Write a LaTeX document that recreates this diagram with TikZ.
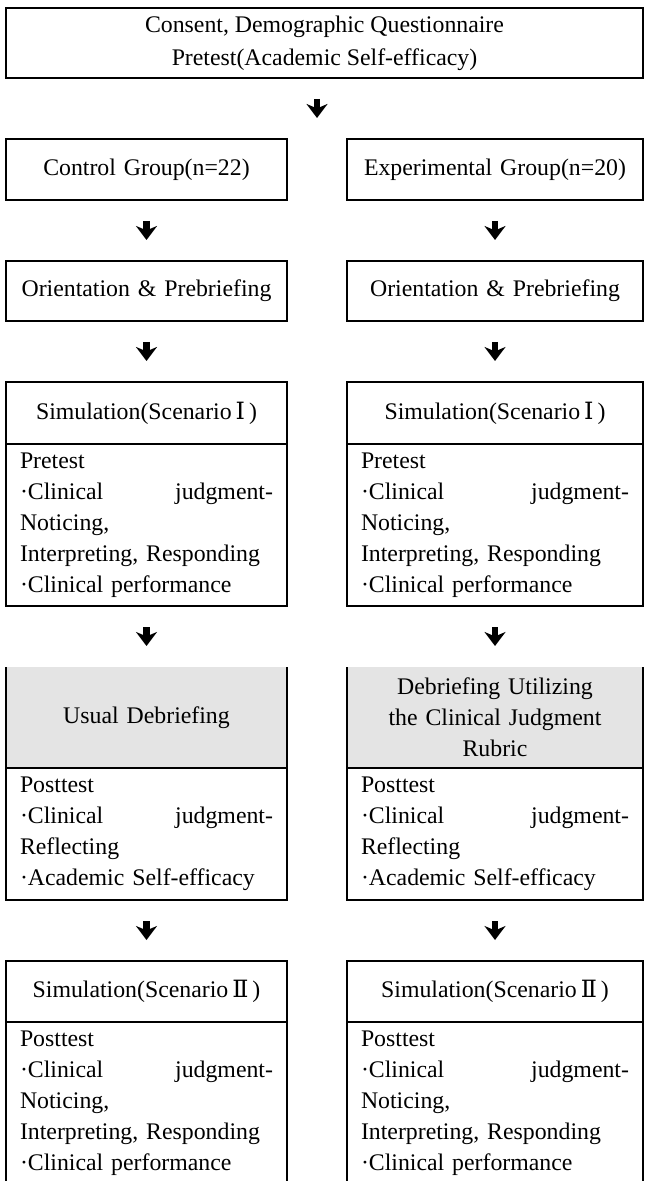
\documentclass[tikz,border=0pt]{standalone}
\usepackage{fontspec}
\setmainfont{Liberation Serif}
\newfontfamily\romanfont{DejaVu Serif}
\usepackage{tikz}
\usetikzlibrary{arrows.meta,positioning,calc}
\definecolor{debrief}{RGB}{228,228,228}

\begin{document}
\begin{tikzpicture}[
  x=1pt,y=1pt,
  node distance=30.5pt,
  every node/.style={font=\fontsize{11.9}{15.5}\selectfont,inner sep=0pt,outer sep=0pt},
  box/.style={draw,line width=0.7pt,align=center,inner xsep=7pt,inner ysep=3pt},
  lcol/.style={minimum width=140.5pt,text width=126.5pt},
  rcol/.style={minimum width=148pt,text width=134pt},
  head/.style={box,minimum height=31pt},
  body/.style={box,align=left,minimum height=81pt},
  shade/.style={fill=debrief,align=center,inner xsep=7pt,minimum height=50.5pt},
  ar/.style={-{Stealth[length=7pt,width=10.5pt,inset=2.2pt]},line width=3.2pt,shorten <=10.5pt,shorten >=10.5pt}
]
\useasboundingbox (0,0) rectangle (322,-590.5);

\node[box,minimum width=318.5pt,minimum height=35pt,font=\fontsize{11.9}{16.5}\selectfont] (intake) at (162.25,-21.5) {Consent, Demographic Questionnaire\\Pretest(Academic Self-efficacy)};

% control arm
\node[head,lcol,minimum height=30.5pt] (ctrl) at (73.25,-84.75) {Control Group(n=22)};
\node[head,lcol,minimum height=30pt,below=of ctrl] (oriC) {Orientation \& Prebriefing};
\node[head,lcol,below=of oriC] (simC) {Simulation(Scenario\,{\romanfont Ⅰ}\,)};
\node[body,lcol,below=0pt of simC] (preC) {Pretest\\·Clinical\hfill judgment-\\Noticing,\\Interpreting, Responding\\·Clinical performance};
\node[shade,lcol,below=of preC] (dbC) {Usual Debriefing};
\node[body,lcol,minimum height=66pt,below=0pt of dbC] (postC) {Posttest\\·Clinical\hfill judgment-\\Reflecting\\·Academic Self-efficacy};
\node[head,lcol,minimum height=30.5pt,below=of postC] (simIIC) {Simulation(Scenario\,{\romanfont Ⅱ}\,)};
\node[body,lcol,below=0pt of simIIC] (postIIC) {Posttest\\·Clinical\hfill judgment-\\Noticing,\\Interpreting, Responding\\·Clinical performance};

% experimental arm
\node[head,rcol,minimum height=30.5pt] (expt) at (247.5,-84.75) {Experimental Group(n=20)};
\node[head,rcol,minimum height=30pt,below=of expt] (oriE) {Orientation \& Prebriefing};
\node[head,rcol,below=of oriE] (simE) {Simulation(Scenario\,{\romanfont Ⅰ}\,)};
\node[body,rcol,below=0pt of simE] (preE) {Pretest\\·Clinical\hfill judgment-\\Noticing,\\Interpreting, Responding\\·Clinical performance};
\node[shade,rcol,below=of preE] (dbE) {Debriefing Utilizing\\the Clinical Judgment\\Rubric};
\node[body,rcol,minimum height=66pt,below=0pt of dbE] (postE) {Posttest\\·Clinical\hfill judgment-\\Reflecting\\·Academic Self-efficacy};
\node[head,rcol,minimum height=30.5pt,below=of postE] (simIIE) {Simulation(Scenario\,{\romanfont Ⅱ}\,)};
\node[body,rcol,below=0pt of simIIE] (postIIE) {Posttest\\·Clinical\hfill judgment-\\Noticing,\\Interpreting, Responding\\·Clinical performance};

% side rules of the shaded debriefing heads
\draw[line width=0.7pt] (dbC.north west) -- (dbC.south west) (dbC.north east) -- (dbC.south east);
\draw[line width=0.7pt] (dbE.north west) -- (dbE.south west) (dbE.north east) -- (dbE.south east);

\coordinate (fork) at ($(ctrl.north east)!0.5!(expt.north west)$);
\draw[ar] (intake.south -| fork) -- (fork);
\draw[ar] (ctrl) -- (oriC);
\draw[ar] (oriC) -- (simC);
\draw[ar] (preC) -- (dbC);
\draw[ar] (postC) -- (simIIC);
\draw[ar] (expt) -- (oriE);
\draw[ar] (oriE) -- (simE);
\draw[ar] (preE) -- (dbE);
\draw[ar] (postE) -- (simIIE);
\end{tikzpicture}
\end{document}
